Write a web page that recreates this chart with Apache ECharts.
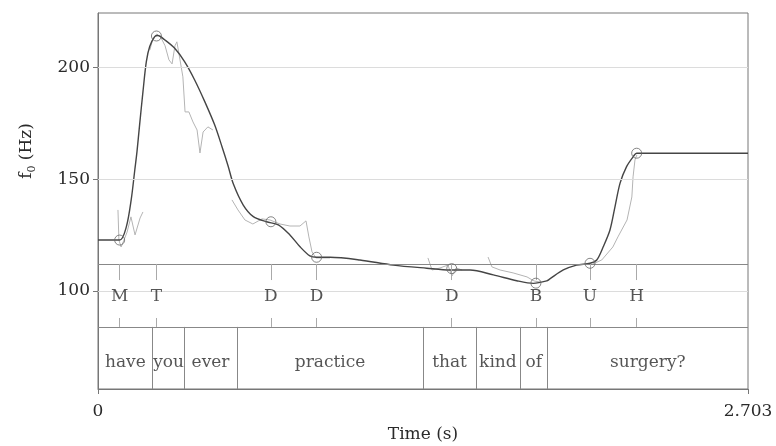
<!DOCTYPE html>
<html>
<head>
<meta charset="utf-8">
<title>f0 contour</title>
<script src="https://cdn.jsdelivr.net/npm/echarts@6/dist/echarts.min.js"></script>
<style>
  html, body { margin: 0; padding: 0; background: #fff; }
  #main { width: 776px; height: 446px; }
</style>
</head>
<body>
<div id="main"></div>
<script>
// stylised f0 contour (dark line), [time (s), f0 (Hz)]
const stylizedF0 = [
  [0, 122.8], [0.09, 122.8], [0.118, 128.8], [0.138, 140.8], [0.153, 154.2],
  [0.162, 162.3], [0.173, 174.4], [0.187, 189.3], [0.201, 202.7], [0.215, 209.5],
  [0.236, 213.9], [0.249, 214.4], [0.277, 212.5], [0.319, 208.7], [0.360, 202.7],
  [0.402, 194.5], [0.444, 184.8], [0.485, 174.4], [0.516, 164.5], [0.541, 156.0],
  [0.563, 147.9], [0.604, 138.5], [0.646, 133.3], [0.701, 131.0], [0.750, 129.6],
  [0.798, 125.1], [0.840, 119.8], [0.881, 115.7], [0.909, 115.1], [0.965, 115.1],
  [1.089, 113.9], [1.228, 111.6], [1.367, 110.2], [1.464, 109.4], [1.547, 109.4],
  [1.644, 107.2], [1.741, 104.6], [1.810, 103.4], [1.866, 104.5], [1.879, 105.4],
  [1.935, 109.4], [1.990, 111.6], [2.046, 112.4], [2.074, 113.9], [2.101, 119.8],
  [2.129, 127.3], [2.150, 137.8], [2.171, 148.3], [2.198, 155.7], [2.226, 160.2],
  [2.240, 161.7], [2.703, 161.7]
];

// raw pitch track (light grey), one array per voiced stretch
const rawF0 = [
  [[0.083, 136.3], [0.087, 122.8], [0.096, 119.7], [0.108, 122.8], [0.121, 126.4],
   [0.137, 133.2], [0.154, 125.1], [0.175, 132.7], [0.187, 135.4]],
  [[0.216, 208.0], [0.229, 213.4], [0.245, 215.1], [0.262, 213.4], [0.279, 209.8],
   [0.295, 203.5], [0.308, 201.7], [0.320, 209.8], [0.328, 211.6], [0.341, 203.5],
   [0.353, 195.9], [0.362, 180.2], [0.378, 180.2], [0.395, 175.7], [0.412, 172.1],
   [0.424, 161.8], [0.437, 171.2], [0.457, 173.5], [0.478, 172.1]],
  [[0.557, 140.8], [0.582, 136.3], [0.611, 131.8], [0.644, 130.0], [0.682, 132.3],
   [0.715, 131.8], [0.757, 130.0], [0.798, 129.1], [0.840, 129.1], [0.865, 131.4],
   [0.877, 124.2], [0.890, 117.5], [0.906, 114.8], [0.931, 114.8], [0.965, 114.8]],
  [[1.372, 114.8], [1.389, 109.4], [1.422, 110.3], [1.455, 111.6], [1.472, 106.7],
   [1.489, 110.3], [1.514, 109.4]],
  [[1.622, 115.2], [1.638, 110.8], [1.672, 109.4], [1.726, 108.1], [1.784, 106.3],
   [1.813, 104.5], [1.838, 104.0]],
  [[2.058, 112.1], [2.095, 113.9], [2.141, 119.7], [2.162, 124.2], [2.200, 131.8],
   [2.220, 142.1], [2.225, 151.1], [2.233, 158.7], [2.241, 160.9]]
];

// tone targets
const toneLabels = ['M', 'T', 'D', 'D', 'D', 'B', 'U', 'H'];
const toneTimes = [0.09, 0.243, 0.719, 0.909, 1.471, 1.821, 2.046, 2.240];
const toneTargets = [122.8, 214.2, 131.0, 115.1, 110.0, 103.5, 112.4, 161.7];

// word tier
const words = ['have', 'you', 'ever', 'practice', 'that', 'kind', 'of', 'surgery?'];
const wordBounds = [0, 0.2275, 0.359, 0.577, 1.353, 1.571, 1.755, 1.870, 2.703];

const yTicks = [100, 150, 200];
const xTicks = [0, 2.703];

// axis range and tier rows (in Hz units of the shared y axis)
const T_MAX = 2.703;
const Y_MIN = 56.1;
const Y_MAX = 224.5;
const TONE_TOP = 112.1;
const TONE_TICK_END = 104.9;
const TONE_TEXT = 97.4;
const TONE_TICK_START = 87.9;
const TIER_SPLIT = 83.9;
const WORD_TEXT = 68.0;

const FONT = 'DejaVu Serif';
const TEXT_COLOR = '#2a2a2a';

const chart = echarts.init(document.getElementById('main'));

const toneTicks = [];
toneTimes.forEach(t => {
  toneTicks.push([{ coord: [t, TONE_TOP] }, { coord: [t, TONE_TICK_END] }]);
  toneTicks.push([{ coord: [t, TONE_TICK_START] }, { coord: [t, TIER_SPLIT] }]);
});

const wordLines = wordBounds.slice(1, -1).map(t => [
  { coord: [t, TIER_SPLIT] }, { coord: [t, Y_MIN] }
]);

const wordCenters = words.map((w, i) => ({
  value: [(wordBounds[i] + wordBounds[i + 1]) / 2, WORD_TEXT],
  name: w
}));

const toneText = toneLabels.map((l, i) => ({ value: [toneTimes[i], TONE_TEXT], name: l }));

const textSeries = (data, z) => ({
  type: 'scatter',
  data: data,
  symbolSize: 1,
  itemStyle: { color: 'rgba(0,0,0,0)' },
  silent: true,
  z: z,
  label: {
    show: true,
    position: 'inside',
    formatter: p => p.name,
    fontFamily: FONT,
    fontSize: 17,
    color: TEXT_COLOR
  }
});

const option = {
  animation: false,
  grid: {
    left: 98,
    right: 28,
    top: 13,
    bottom: 57,
    outerBoundsMode: 'none',
    show: true,
    borderColor: '#777',
    borderWidth: 1
  },
  xAxis: {
    type: 'value',
    min: 0,
    max: T_MAX,
    name: 'Time (s)',
    nameLocation: 'middle',
    nameGap: 37,
    nameTextStyle: { fontFamily: FONT, fontSize: 17, color: TEXT_COLOR },
    axisLine: { lineStyle: { color: '#777' } },
    axisTick: { customValues: xTicks, length: 5, lineStyle: { color: '#777' } },
    axisLabel: {
      customValues: xTicks,
      margin: 14,
      fontFamily: FONT,
      fontSize: 17,
      color: TEXT_COLOR,
      formatter: v => (v === 0 ? '0' : v.toFixed(3))
    },
    splitLine: { show: false }
  },
  yAxis: {
    type: 'value',
    min: Y_MIN,
    max: Y_MAX,
    name: '{i|f}{s|0}{n| (Hz)}',
    nameLocation: 'middle',
    nameRotate: 90,
    nameGap: 60,
    nameTextStyle: {
      padding: [0, 0, 0, 100],
      rich: {
        i: { fontFamily: FONT, fontSize: 17, color: TEXT_COLOR, lineHeight: 22 },
        s: { fontFamily: FONT, fontSize: 11, color: TEXT_COLOR, lineHeight: 12, verticalAlign: 'bottom' },
        n: { fontFamily: FONT, fontSize: 17, color: TEXT_COLOR, lineHeight: 22 }
      }
    },
    axisLine: { show: true, lineStyle: { color: '#777' } },
    axisTick: { show: true, customValues: yTicks, length: 5, lineStyle: { color: '#777' } },
    axisLabel: {
      customValues: yTicks,
      margin: 8,
      fontFamily: FONT,
      fontSize: 17,
      color: TEXT_COLOR
    },
    splitLine: { show: false }
  },
  series: [
    // grid lines and tier frame
    {
      type: 'line',
      data: [],
      silent: true,
      z: 1,
      markLine: {
        silent: true,
        symbol: 'none',
        animation: false,
        label: { show: false },
        lineStyle: { color: '#dcdcdc', type: 'solid', width: 1 },
        data: yTicks.map(v => ({ yAxis: v }))
      }
    },
    {
      type: 'line',
      data: [],
      silent: true,
      z: 2,
      markLine: {
        silent: true,
        symbol: 'none',
        animation: false,
        label: { show: false },
        lineStyle: { color: '#888', type: 'solid', width: 1 },
        data: [{ yAxis: TONE_TOP }, { yAxis: TIER_SPLIT }].concat(wordLines)
      }
    },
    {
      type: 'line',
      data: [],
      silent: true,
      z: 2,
      markLine: {
        silent: true,
        symbol: 'none',
        animation: false,
        label: { show: false },
        lineStyle: { color: '#aaa', type: 'solid', width: 1 },
        data: toneTicks
      }
    },
    // raw pitch track
    ...rawF0.map(seg => ({
      type: 'line',
      data: seg,
      showSymbol: false,
      silent: true,
      z: 3,
      lineStyle: { color: '#b4b4b4', width: 1 }
    })),
    // stylised contour
    {
      type: 'line',
      data: stylizedF0,
      smooth: 0.3,
      showSymbol: false,
      silent: true,
      z: 4,
      lineStyle: { color: '#454545', width: 1.4 }
    },
    // tone target circles
    {
      type: 'scatter',
      data: toneTimes.map((t, i) => [t, toneTargets[i]]),
      symbol: 'circle',
      symbolSize: 10,
      silent: true,
      z: 5,
      itemStyle: { color: 'rgba(255,255,255,0)', borderColor: '#666', borderWidth: 1 }
    },
    textSeries(toneText, 6),
    textSeries(wordCenters, 6)
  ]
};

chart.setOption(option);
</script>
</body>
</html>
